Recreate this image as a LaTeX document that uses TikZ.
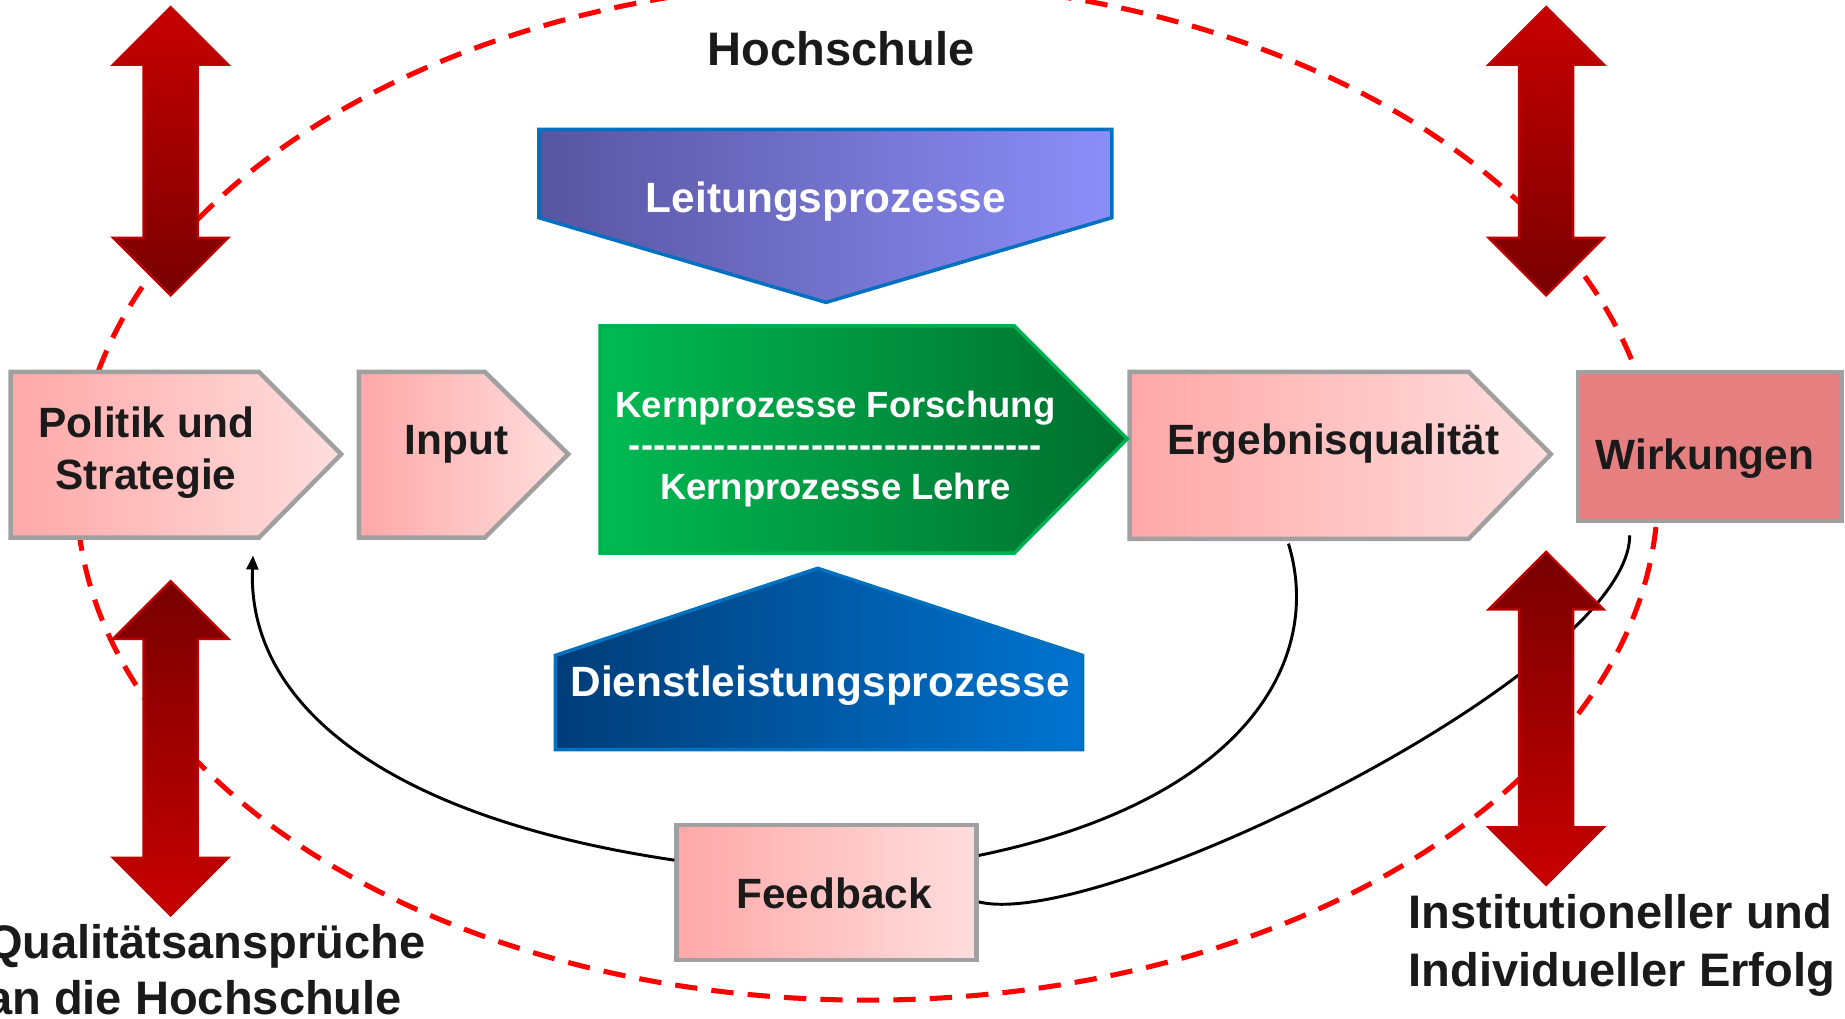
\documentclass[tikz,border=0pt]{standalone}
\usepackage{fontspec}
\setmainfont{Liberation Sans}
\usetikzlibrary{arrows.meta}
\definecolor{pinkL}{HTML}{FFA8A8}
\definecolor{pinkR}{HTML}{FFDEDE}
\definecolor{boxgray}{HTML}{A0A0A0}
\definecolor{wirk}{HTML}{E67F7F}
\definecolor{leitL}{HTML}{5855A0}
\definecolor{leitR}{HTML}{8C8EF8}
\definecolor{blueB}{HTML}{0070C0}
\definecolor{greenL}{HTML}{00BA52}
\definecolor{greenR}{HTML}{006E2E}
\definecolor{greenB}{HTML}{00B050}
\definecolor{dienL}{HTML}{003D78}
\definecolor{dienR}{HTML}{0074D0}
\definecolor{arrBright}{HTML}{C80000}
\definecolor{arrDark}{HTML}{780000}
\definecolor{arrB}{HTML}{C00000}
\definecolor{txt}{HTML}{1A1A1A}
\newcommand\hyphenrow[1]{\foreach \k in {1,...,#1}{-\kern0pt}}
\newcommand\vdarrow[5]{%
  \shadedraw[top color=#4,bottom color=#5,draw=arrB,line width=2,line join=miter]
  (#1,#2) -- ++(49,49) -- ++(-26,0) -- ({#1+23},{#3-49}) -- ++(26,0) -- (#1,#3)
  -- ++(-49,-49) -- ++(26,0) -- ({#1-23},{#2+49}) -- ++(-26,0) -- cycle;}
\begin{document}
\begin{tikzpicture}[x=1pt,y=-1pt,
  pinkbox/.style={draw=boxgray,line width=3.8,left color=pinkL,right color=pinkR,line join=miter},
  bluebox/.style={draw=blueB,line width=3,line join=miter},
  conn/.style={draw=black,line width=2.5},
  lbl/.style={font=\bfseries\fontsize{36}{43}\selectfont,text=txt,inner sep=0,anchor=base},
  wlbl/.style={font=\bfseries\fontsize{36}{43}\selectfont,text=white,inner sep=0,anchor=base},
  klbl/.style={font=\bfseries\fontsize{31}{37}\selectfont,text=white,inner sep=0,anchor=base},
  big/.style={font=\bfseries\fontsize{40}{47}\selectfont,text=txt,inner sep=0,anchor=base west}]
\useasboundingbox (0,0) rectangle (1568,866);
% dashed boundary of the university
\draw[red,line width=4.3,dash pattern=on 19pt off 12pt] (737,417) ellipse [x radius=672, y radius=433];

% boxes
\shadedraw[pinkbox] (9,316) -- (220,316) -- (290,386) -- (220,457) -- (9,457) -- cycle;
\shadedraw[pinkbox] (305,316) -- (412,316) -- (483,386) -- (412,457) -- (305,457) -- cycle;
\shadedraw[pinkbox] (960,316) -- (1248,316) -- (1318,386) -- (1248,458) -- (960,458) -- cycle;
\shadedraw[bluebox,left color=leitL,right color=leitR] (458,110) -- (945,110) -- (945,185) -- (702,257) -- (458,185) -- cycle;
\shadedraw[draw=greenB,line width=3,line join=miter,left color=greenL,right color=greenR] (510,277) -- (862,277) -- (958,373) -- (862,470) -- (510,470) -- cycle;
\shadedraw[bluebox,left color=dienL,right color=dienR] (472,637) -- (472,557) -- (695,483) -- (920,557) -- (920,637) -- cycle;
\node[draw=boxgray,line width=3.8,fill=wirk,minimum width=224,minimum height=127,inner sep=0] (wk) at (1453,379.5) {};
\node[pinkbox,minimum width=255,minimum height=115,inner sep=0] (fb) at (702.5,758.5) {};

\coordinate (polArr) at (215,472);
\coordinate (ergB) at (1095,462);
\coordinate (wkB) at (1385,455);

% feedback connectors
\draw[conn,-{Triangle[length=12pt,width=10pt]}] ([yshift=27.5pt]fb.west) .. controls (330,695) and (210,600) .. (polArr);
\draw[conn] (ergB) .. controls (1125,560) and (1060,680) .. ([yshift=31.5pt]fb.east);
\draw[conn] (wkB) .. controls (1385,570) and (935,792) .. ([yshift=-8pt]fb.east);

% red double arrows
\vdarrow{145}{6}{251}{arrBright}{arrDark}
\vdarrow{1314}{6}{251}{arrBright}{arrDark}
\vdarrow{145}{494}{778}{arrDark}{arrBright}
\vdarrow{1314}{469}{752}{arrDark}{arrBright}

% texts
\node[lbl,font=\bfseries\fontsize{40}{47}\selectfont] (hs) at (715,56) {Hochschule};
\node[wlbl] (leit) at (702,180.5) {Leitungsprozesse};
\node[klbl] (kf) at (710,355) {Kernprozesse Forschung};
\node[klbl] (kd) at (710,389) {\hyphenrow{34}};
\node[klbl] (kl) at (710,424.5) {Kernprozesse Lehre};
\node[wlbl] (dien) at (697,592) {Dienstleistungsprozesse};
\node[lbl] (pol1) at (124.5,372) {Politik und};
\node[lbl] (pol2) at (124,416) {Strategie};
\node[lbl] (inp) at (388,386) {Input};
\node[lbl] (erg) at (1133,386) {Ergebnisqualität};
\node[lbl] (wkt) at (1449,399) {Wirkungen};
\node[lbl] (fbt) at (709,772) {Feedback};
\node[big] (qa1) at (-12,815) {Qualitätsansprüche};
\node[big] (qa2) at (-12,862) {an die Hochschule};
\node[big] (ie1) at (1197,789) {Institutioneller und};
\node[big] (ie2) at (1197,838) {Individueller Erfolg};
\end{tikzpicture}
\end{document}
